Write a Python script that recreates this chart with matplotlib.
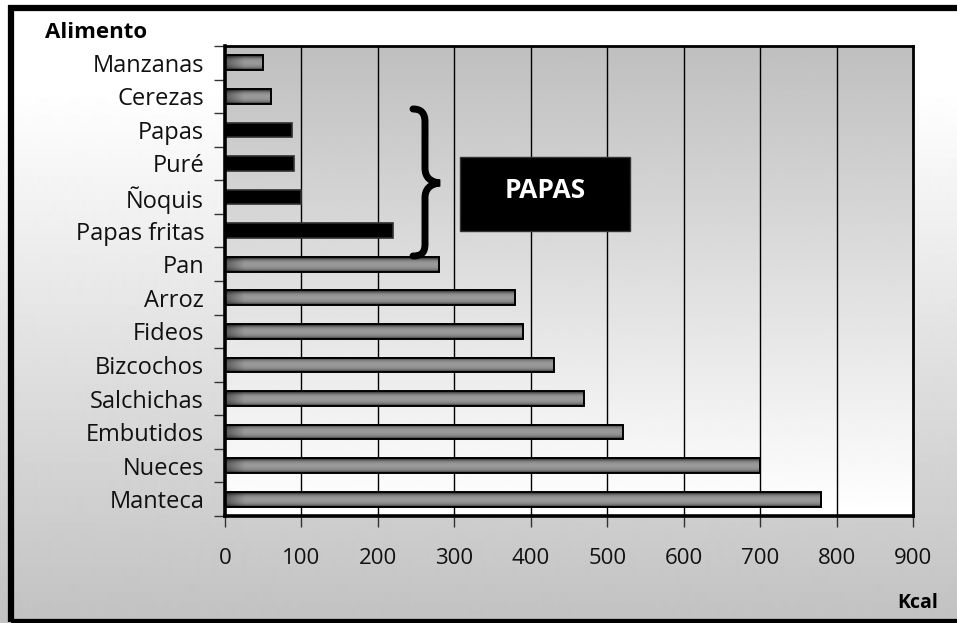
import numpy as np
import matplotlib
matplotlib.use("Agg")
import matplotlib.pyplot as plt
from matplotlib.patches import Rectangle, PathPatch
from matplotlib.path import Path

plt.rcParams['font.family'] = ['Open Sans', 'DejaVu Sans']

alimentos = ["Manzanas", "Cerezas", "Papas", "Puré", "Ñoquis", "Papas fritas", "Pan",
             "Arroz", "Fideos", "Bizcochos", "Salchichas", "Embutidos", "Nueces", "Manteca"]
kcal = [50, 60, 88, 90, 100, 220, 280, 380, 390, 430, 470, 520, 700, 780]
grupo_papas = ["Papas", "Puré", "Ñoquis", "Papas fritas"]
xticks = [0, 100, 200, 300, 400, 500, 600, 700, 800, 900]

W, H = 957, 623
fig = plt.figure(figsize=(W / 100, H / 100), dpi=100)

# chart area background: white at the top fading to gray
bg = fig.add_axes([0, 0, 1, 1], zorder=-10)
col = np.clip(1.04 - 0.00045 * np.arange(H), 0, 1)[:, None]
bg.imshow(col, cmap="gray", vmin=0, vmax=1, aspect="auto", extent=(0, 1, 0, 1),
          interpolation="bilinear")
bg.set_axis_off()
fig.patches.append(Rectangle((11 / W, 1 - 622 / H), 990 / W, (622 - 8) / H,
                             transform=fig.transFigure, fill=False,
                             edgecolor="black", linewidth=4.5, zorder=5))

L, R, T, B = 225, 913, 46, 516
ax = fig.add_axes([L / W, 1 - B / H, (R - L) / W, (B - T) / H])
n = len(alimentos)
ax.set_xlim(0, 900)
ax.set_ylim(n - 0.5, -0.5)

# plot area background: gray at the top to white at the bottom
grad = np.linspace(0.75, 1.0, 200)[:, None]
ax.imshow(grad, cmap="gray", vmin=0, vmax=1, aspect="auto",
          extent=(0, 900, n - 0.5, -0.5), origin="upper", zorder=0,
          interpolation="bilinear")

for xv in xticks[1:-1]:
    ax.axvline(xv, color="black", linewidth=1.0, zorder=1)

h = 0.44
prof = np.array([0.2, 0.38, 0.52, 0.58, 0.6, 0.6, 0.58, 0.54, 0.45, 0.25])
for i, (name, v) in enumerate(zip(alimentos, kcal)):
    if name in grupo_papas:
        ax.add_patch(Rectangle((0, i - h / 2), v, h, facecolor="black",
                               edgecolor="#303030", linewidth=1.2, zorder=3))
        continue
    xs = np.linspace(0, v, 300)
    shade = 0.6 + 0.4 * np.clip(xs / 25.0, 0, 1)
    img = prof[:, None] * shade[None, :]
    ax.imshow(img, cmap="gray", vmin=0, vmax=1, aspect="auto",
              extent=(0, v, i + h / 2, i - h / 2), origin="upper", zorder=3,
              interpolation="bilinear")
    ax.add_patch(Rectangle((0, i - h / 2), v, h, fill=False,
                           edgecolor="black", linewidth=1.4, zorder=4))

ax.set_xticks(xticks)
ax.set_xticklabels([str(t) for t in xticks], fontsize=16, color="#111111")
ax.set_yticks(range(n))
ax.set_yticklabels(alimentos, fontsize=17, color="#111111")
ax.set_yticks(np.arange(-0.5, n, 1), minor=True)
ax.tick_params(axis="y", which="major", length=0, pad=15)
ax.tick_params(axis="y", which="minor", length=8, width=1, color="#333333")
ax.tick_params(axis="x", length=8, width=1, color="#333333", pad=15)

for s in ["left", "bottom"]:
    ax.spines[s].set_linewidth(2.6)
for s in ["top", "right"]:
    ax.spines[s].set_linewidth(2.0)
for s in ax.spines.values():
    s.set_zorder(6)

# brace grouping the potato products
def fx(px):
    return (px - L) / (R - L)

def fy(py):
    return (B - py) / (B - T)

pts = [(413, 109), (421, 109), (425, 113), (425, 122), (425, 168),
       (425, 177), (430, 182), (440, 183), (430, 184), (425, 189), (425, 198),
       (425, 244), (425, 253), (421, 256), (413, 256)]
codes = [Path.MOVETO, Path.CURVE4, Path.CURVE4, Path.CURVE4, Path.LINETO,
         Path.CURVE4, Path.CURVE4, Path.CURVE4, Path.CURVE4, Path.CURVE4, Path.CURVE4,
         Path.LINETO, Path.CURVE4, Path.CURVE4, Path.CURVE4]
brace = Path([(fx(x), fy(y)) for x, y in pts], codes)
ax.add_patch(PathPatch(brace, transform=ax.transAxes, fill=False, edgecolor="black",
                       linewidth=5, capstyle="round", zorder=5, clip_on=False))

ax.add_patch(Rectangle((fx(460), fy(231)), fx(630) - fx(460), fy(157) - fy(231),
                       transform=ax.transAxes, facecolor="black", edgecolor="#333333",
                       linewidth=1, zorder=5))
ax.text(fx(545), fy(191), "PAPAS", transform=ax.transAxes, color="white",
        fontsize=19, fontweight="bold", ha="center", va="center", zorder=6)

fig.text(45 / W, 1 - 33 / H, "Alimento", fontsize=16, fontweight="bold",
         ha="left", va="center")
fig.text(938 / W, 1 - 603 / H, "Kcal", fontsize=14, fontweight="bold",
         ha="right", va="center")

fig.savefig("out.png", dpi=100)
